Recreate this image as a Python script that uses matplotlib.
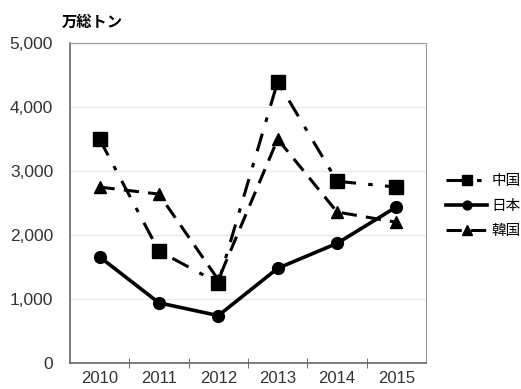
import matplotlib.pyplot as plt
from matplotlib.ticker import FuncFormatter

years = ['2010', '2011', '2012', '2013', '2014', '2015']
china = [3500, 1750, 1250, 4400, 2840, 2750]
japan = [1660, 940, 740, 1480, 1870, 2440]
korea = [2750, 2640, 1300, 3500, 2360, 2200]

plt.rcParams['font.family'] = ['Liberation Sans', 'Noto Sans CJK JP', 'DejaVu Sans']

fig = plt.figure(figsize=(5.21, 3.89), dpi=100)
ax = fig.add_axes([0.134, 0.067, 0.684, 0.822])

x = list(range(len(years)))
ax.plot(x, china, color='black', lw=2.2, linestyle=(0, (6, 4, 1.5, 4)),
        marker='s', markersize=9.5, label='中国')
ax.plot(x, japan, color='black', lw=2.6, linestyle='-',
        marker='o', markersize=8.5, label='日本')
ax.plot(x, korea, color='black', lw=2.2, linestyle=(0, (5, 3)),
        marker='^', markersize=9, label='韓国')

ax.set_xlim(-0.5, 5.5)
ax.set_ylim(0, 5000)
ax.set_yticks(range(0, 5001, 1000))
ax.yaxis.set_major_formatter(FuncFormatter(lambda v, p: f'{int(v):,}'))
ax.set_xticks(x)
ax.set_xticklabels(years)
ax.set_xticks([i + 0.5 for i in range(5)], minor=True)
ax.tick_params(axis='x', which='major', length=0, labelsize=12, pad=6, colors='#333333')
ax.tick_params(axis='x', which='minor', length=7, direction='inout', color='#555555')
ax.tick_params(axis='y', length=0, labelsize=12.5, pad=12, colors='#333333')

ax.grid(axis='y', color='#e8e8e8', lw=1)
ax.set_axisbelow(True)
for s in ['top', 'right']:
    ax.spines[s].set_color('#999999')
for s in ['left', 'bottom']:
    ax.spines[s].set_color('#666666')
    ax.spines[s].set_linewidth(1.2)

fig.text(0.118, 0.943, '万総トン', fontsize=11, fontweight='bold',
         family=['Noto Sans CJK JP'], va='center')

ax.legend(loc='center left', bbox_to_anchor=(1.02, 0.49), frameon=False,
          handlelength=2.8, handletextpad=0.3, labelspacing=0.75,
          markerscale=0.75, prop={'family': ['Noto Sans CJK JP'], 'size': 10.5})

fig.savefig('out.png', dpi=100)
